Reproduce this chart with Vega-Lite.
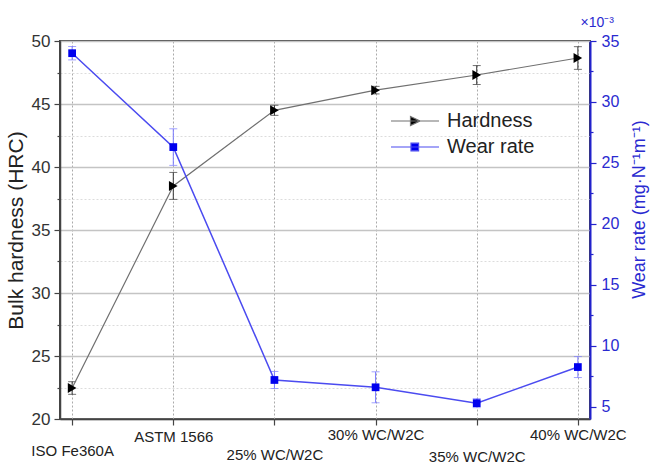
{
  "$schema": "https://vega.github.io/schema/vega-lite/v6.json",
  "autosize": {"type": "none"},
  "padding": {"left": 60, "top": 41, "right": 61, "bottom": 47},
  "width": 530,
  "height": 378,
  "background": "white",
  "config": {
    "font": "Liberation Sans",
    "view": {"stroke": "#444", "strokeWidth": 2}
  },
  "title": {"text": "×10⁻³", "anchor": "end", "frame": "group", "color": "#2a2ad0", "fontSize": 14, "fontWeight": "normal", "offset": 2, "dx": 24},
  "datasets": {
    "main": [
      {"sample": "ISO Fe360A", "hardness": 22.46, "hardnessErr": 0.5, "wear": 34.0, "wearErr": 0.55},
      {"sample": "ASTM 1566", "hardness": 38.5, "hardnessErr": 1.07, "wear": 26.3, "wearErr": 1.5},
      {"sample": "25% WC/W2C", "hardness": 44.5, "hardnessErr": 0.4, "wear": 7.2, "wearErr": 0.7},
      {"sample": "30% WC/W2C", "hardness": 46.1, "hardnessErr": 0.3, "wear": 6.6, "wearErr": 1.27},
      {"sample": "35% WC/W2C", "hardness": 47.3, "hardnessErr": 0.75, "wear": 5.3, "wearErr": 0.37},
      {"sample": "40% WC/W2C", "hardness": 48.65, "hardnessErr": 0.9, "wear": 8.26, "wearErr": 0.86}
    ],
    "series": [
      {"series": "Hardness"},
      {"series": "Wear rate"}
    ]
  },
  "layer": [
    {
      "data": {"name": "main"},
      "encoding": {
        "x": {
          "field": "sample", "type": "nominal", "sort": null,
          "scale": {"type": "point", "padding": 0.12},
          "axis": {
            "title": null, "labelAngle": 0, "labelFontSize": 15, "labelColor": "#222",
            "labelBaseline": "top",
            "labelPadding": {"condition": [
              {"test": "datum.value == 'ISO Fe360A'", "value": 18},
              {"test": "datum.value == '25% WC/W2C'", "value": 22},
              {"test": "datum.value == '35% WC/W2C'", "value": 24},
              {"test": "datum.value == 'ASTM 1566'", "value": 4}
            ], "value": 2},
            "domainColor": "#444", "domainWidth": 1.5,
            "tickColor": "#444", "tickSize": 6, "tickWidth": 1.2,
            "grid": true, "gridDash": [2, 2], "gridColor": "#aaa", "gridWidth": 1
          }
        },
        "y": {
          "field": "hardness", "type": "quantitative",
          "scale": {"domain": [20, 50], "nice": false, "zero": false},
          "axis": {
            "title": "Bulk hardness (HRC)", "titleFontSize": 21, "titleFontWeight": "normal", "titleColor": "#222", "titlePadding": 5,
            "values": [20, 22.5, 25, 27.5, 30, 32.5, 35, 37.5, 40, 42.5, 45, 47.5, 50],
            "labelExpr": "datum.value % 5 == 0 ? datum.label : ''",
            "labelFontSize": 17, "labelColor": "#333", "labelPadding": 4,
            "domainColor": "#444", "domainWidth": 1.5,
            "tickColor": "#444", "tickWidth": 1.2,
            "tickSize": {"condition": {"test": "datum.value % 5 != 0", "value": 3}, "value": 6},
            "grid": true,
            "gridColor": {"condition": {"test": "datum.value % 5 != 0", "value": "#dcdcdc"}, "value": "#c4c4c4"},
            "gridDash": {"condition": {"test": "datum.value % 5 != 0", "value": [2, 2]}, "value": []},
            "gridWidth": {"condition": {"test": "datum.value % 5 != 0", "value": 1}, "value": 1.3}
          }
        }
      },
      "layer": [
        {
          "mark": {"type": "errorbar", "ticks": {"size": 8, "color": "#333"}, "rule": {"color": "#333", "strokeWidth": 1}},
          "encoding": {"yError": {"field": "hardnessErr"}}
        },
        {"mark": {"type": "line", "color": "#707070", "strokeWidth": 1.2}},
        {"mark": {"type": "point", "shape": "triangle-right", "filled": true, "size": 100, "color": "#000", "opacity": 1}}
      ]
    },
    {
      "data": {"name": "main"},
      "encoding": {
        "x": {"field": "sample", "type": "nominal", "sort": null},
        "y": {
          "field": "wear", "type": "quantitative",
          "scale": {"domain": [4, 35], "nice": false, "zero": false},
          "axis": {
            "orient": "right",
            "title": "Wear rate (mg·N⁻¹m⁻¹)", "titleAngle": -90, "titleBaseline": "top", "titleFontSize": 18, "titleFontWeight": "normal", "titleColor": "#2a2ad0", "titlePadding": 12, "titleY": 168,
            "values": [5, 7.5, 10, 12.5, 15, 17.5, 20, 22.5, 25, 27.5, 30, 32.5, 35],
            "labelExpr": "datum.value % 5 == 0 ? datum.label : ''",
            "labelFontSize": 16, "labelColor": "#2a2ad0", "labelPadding": 5,
            "domainColor": "#2222cc", "domainWidth": 2,
            "tickColor": "#2222cc", "tickWidth": 1.2,
            "tickSize": {"condition": {"test": "datum.value % 5 != 0", "value": 3}, "value": 6},
            "grid": false
          }
        }
      },
      "layer": [
        {
          "mark": {"type": "errorbar", "ticks": {"size": 8, "color": "#7a7aff"}, "rule": {"color": "#7a7aff", "strokeWidth": 1}},
          "encoding": {"yError": {"field": "wearErr"}}
        },
        {"mark": {"type": "line", "color": "#4b4bf0", "strokeWidth": 1.5}},
        {"mark": {"type": "point", "shape": "square", "filled": true, "size": 60, "color": "#0000ee", "opacity": 1}}
      ]
    },
    {
      "data": {"name": "series"},
      "mark": {"type": "point", "opacity": 0, "strokeWidth": 1.2},
      "encoding": {
        "shape": {
          "field": "series", "type": "nominal",
          "scale": {"domain": ["Hardness", "Wear rate"], "range": ["M-1,0L3.8,0M0.95,-0.45L1.9,0L0.95,0.45Z", "M-1,0L3.8,0M1.0,-0.38L1.76,-0.38L1.76,0.38L1.0,0.38Z"]},
          "legend": {
            "orient": "none", "legendX": 330, "legendY": 69, "padding": 0,
            "title": null, "symbolSize": 400, "symbolOpacity": 1, "symbolStrokeWidth": 1.2,
            "labelFontSize": 20, "labelColor": "#222", "labelOffset": 35, "rowPadding": 5
          }
        },
        "fill": {"field": "series", "type": "nominal", "scale": {"domain": ["Hardness", "Wear rate"], "range": ["#000000", "#0000ee"]}},
        "stroke": {"field": "series", "type": "nominal", "scale": {"domain": ["Hardness", "Wear rate"], "range": ["#707070", "#4b4bf0"]}}
      }
    }
  ],
  "resolve": {"scale": {"y": "independent"}}
}
